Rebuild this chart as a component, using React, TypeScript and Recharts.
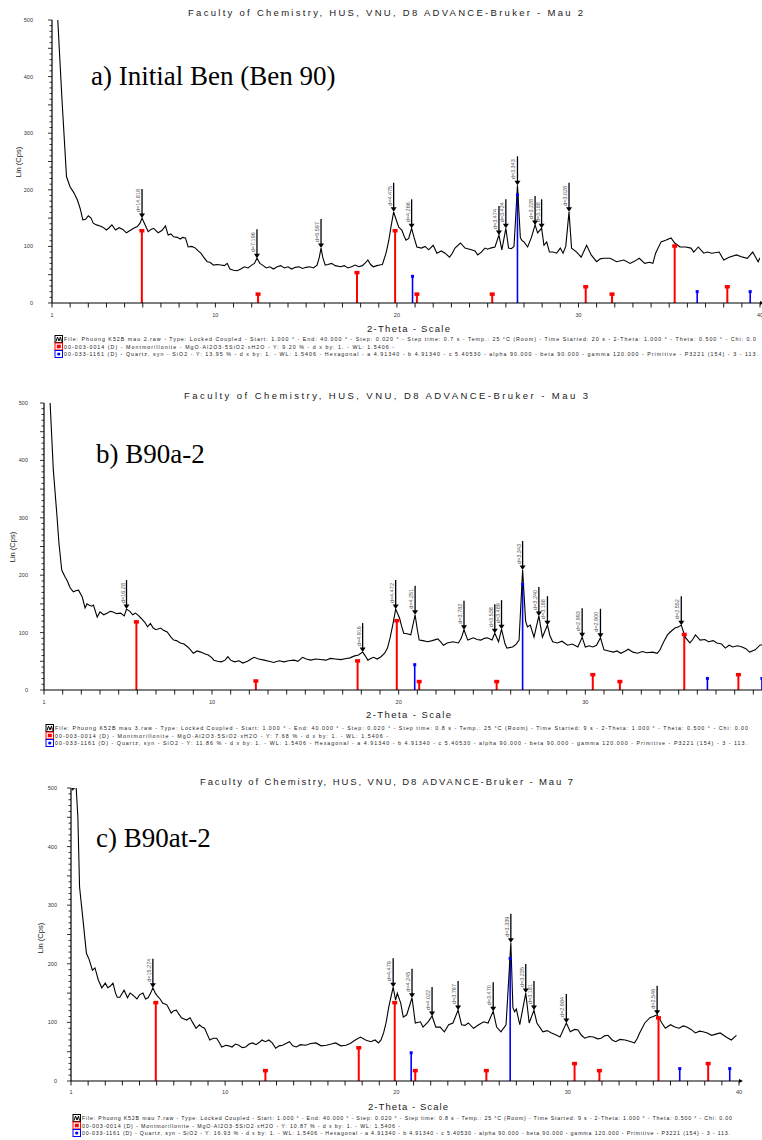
import React from "react";
import { ComposedChart, Line, Scatter, XAxis, YAxis, ReferenceLine } from "recharts";

// reference pattern positions (2-theta, degrees)
const montTheta = [5.95, 12.35, 17.8, 19.9, 21.1, 25.25, 30.4, 31.85, 35.3, 38.2];
const quartzTheta = [20.86, 26.64, 36.54, 39.46];

// stick heights per sample (Cps)
const montCpsA = [129, 17, 55, 129, 17, 17, 30, 17, 102, 30];
const quartzCpsA = [48, 192, 21, 21];
const montCpsB = [120, 17, 52, 122, 16, 16, 28, 16, 98, 28];
const quartzCpsB = [45, 185, 21, 21];
const montCpsC = [135, 19, 58, 135, 19, 19, 31, 19, 109, 31];
const quartzCpsC = [49, 210, 22, 22];

// measured scans: [2-theta, Cps]
const scanA: [number, number][] = [
  [1.0, 720], [1.15, 600], [1.31, 505], [1.55, 359], [1.8, 223], [2.0, 205], [2.2, 195], [2.4, 182],
  [2.55, 167], [2.7, 147], [2.85, 148], [3.0, 154], [3.15, 150], [3.27, 141], [3.45, 138], [3.65, 136],
  [3.8, 134], [4.0, 129], [4.15, 133], [4.3, 138], [4.5, 129], [4.7, 133], [4.9, 130], [5.1, 124],
  [5.3, 128], [5.5, 132], [5.7, 135], [5.85, 141], [5.96, 150], [6.1, 140], [6.3, 126], [6.45, 130],
  [6.6, 132], [6.85, 124], [7.05, 128], [7.25, 136], [7.4, 120], [7.55, 122], [7.7, 117], [7.9, 116],
  [8.07, 113], [8.2, 116], [8.35, 115], [8.5, 99], [8.7, 100], [8.9, 97], [9.05, 92], [9.2, 88],
  [9.35, 81], [9.55, 73], [9.7, 72], [9.9, 67], [10.1, 68], [10.3, 67], [10.5, 66], [10.65, 70],
  [10.8, 60], [11.0, 58], [11.2, 57], [11.4, 60], [11.6, 64], [11.8, 62], [12.0, 67], [12.15, 70],
  [12.29, 79], [12.45, 70], [12.6, 67], [12.8, 62], [13.0, 64], [13.2, 60], [13.4, 64], [13.6, 66],
  [13.8, 62], [14.0, 64], [14.2, 60], [14.4, 63], [14.6, 64], [14.8, 61], [15.0, 63], [15.2, 64],
  [15.4, 62], [15.6, 67], [15.72, 80], [15.82, 97], [15.92, 80], [16.05, 67], [16.2, 68], [16.4, 70],
  [16.6, 66], [16.9, 64], [17.1, 66], [17.3, 62], [17.5, 64], [17.7, 67], [17.9, 64], [18.1, 66],
  [18.3, 72], [18.4, 76], [18.55, 68], [18.7, 64], [18.9, 66], [19.05, 67], [19.2, 68], [19.4, 88],
  [19.55, 110], [19.67, 134], [19.82, 161], [19.95, 148], [20.1, 134], [20.27, 129], [20.4, 118],
  [20.5, 111], [20.65, 114], [20.81, 132], [20.95, 115], [21.1, 99], [21.35, 97], [21.55, 100],
  [21.75, 94], [22.0, 102], [22.2, 88], [22.45, 92], [22.65, 88], [22.9, 81], [23.05, 88], [23.2, 97],
  [23.5, 106], [23.75, 97], [24.1, 94], [24.3, 92], [24.45, 85], [24.65, 90], [24.85, 97], [25.0, 95],
  [25.15, 97], [25.4, 99], [25.62, 120], [25.78, 94], [26.0, 132], [26.15, 97], [26.3, 96], [26.45, 100],
  [26.64, 208], [26.8, 115], [26.9, 110], [27.0, 108], [27.2, 99], [27.4, 115], [27.61, 138], [27.75, 124],
  [27.97, 132], [28.1, 102], [28.25, 108], [28.4, 90], [28.6, 90], [28.8, 88], [29.0, 97], [29.15, 88],
  [29.3, 100], [29.48, 161], [29.62, 97], [29.9, 90], [30.15, 81], [30.45, 102], [30.7, 85], [31.0, 73],
  [31.2, 78], [31.4, 79], [31.75, 79], [32.1, 73], [32.5, 76], [32.85, 70], [33.1, 74], [33.35, 79],
  [33.65, 70], [33.9, 72], [34.1, 70], [34.25, 88], [34.55, 108], [34.8, 111], [35.1, 115], [35.3, 106],
  [35.6, 99], [35.9, 99], [36.2, 97], [36.35, 90], [36.6, 99], [36.9, 88], [37.1, 90], [37.35, 88],
  [37.75, 90], [38.0, 76], [38.3, 81], [38.7, 85], [39.05, 81], [39.3, 79], [39.6, 90], [39.9, 73], [40.0, 80],
];

const scanB: [number, number][] = [
  [1.0, 650], [1.15, 560], [1.32, 505], [1.5, 383], [1.7, 301], [1.8, 256], [1.95, 209], [2.13, 197],
  [2.25, 190], [2.4, 178], [2.57, 171], [2.7, 173], [2.85, 174], [3.05, 162], [3.2, 143], [3.3, 150],
  [3.4, 148], [3.55, 146], [3.65, 148], [3.85, 127], [4.0, 136], [4.2, 131], [4.4, 134], [4.55, 137],
  [4.7, 136], [4.9, 133], [5.1, 134], [5.3, 129], [5.42, 141], [5.6, 137], [5.75, 131], [5.9, 134],
  [6.05, 130], [6.2, 125], [6.4, 118], [6.55, 110], [6.7, 116], [6.85, 108], [7.0, 105], [7.25, 108],
  [7.4, 104], [7.6, 101], [7.8, 92], [7.95, 87], [8.1, 86], [8.3, 82], [8.5, 80], [8.7, 75], [8.85, 70],
  [9.0, 64], [9.2, 68], [9.4, 66], [9.6, 63], [9.8, 61], [10.0, 56], [10.1, 52], [10.3, 50], [10.5, 49],
  [10.7, 52], [10.85, 58], [11.0, 52], [11.2, 49], [11.45, 51], [11.65, 47], [11.9, 50], [12.1, 54],
  [12.25, 57], [12.5, 54], [12.8, 52], [13.05, 50], [13.3, 48], [13.6, 51], [13.85, 49], [14.1, 51],
  [14.4, 52], [14.6, 50], [14.85, 57], [15.05, 54], [15.3, 52], [15.55, 54], [15.8, 53], [16.1, 52],
  [16.35, 55], [16.6, 54], [16.9, 53], [17.2, 55], [17.4, 56], [17.6, 59], [17.85, 61], [18.07, 66],
  [18.2, 60], [18.35, 52], [18.5, 55], [18.65, 57], [18.85, 54], [19.05, 58], [19.25, 64], [19.4, 73],
  [19.55, 92], [19.7, 116], [19.84, 141], [20.05, 125], [20.15, 112], [20.27, 99], [20.45, 98],
  [20.65, 96], [20.88, 131], [21.0, 105], [21.1, 87], [21.3, 86], [21.55, 84], [21.8, 86], [22.1, 89],
  [22.25, 84], [22.4, 78], [22.6, 82], [22.9, 84], [23.2, 82], [23.35, 90], [23.5, 105], [23.7, 87],
  [24.0, 91], [24.2, 88], [24.4, 87], [24.6, 90], [24.75, 91], [25.0, 87], [25.15, 99], [25.35, 84],
  [25.51, 106], [25.7, 80], [25.8, 73], [26.1, 75], [26.3, 80], [26.45, 87], [26.64, 209], [26.8, 120],
  [26.9, 110], [27.05, 113], [27.25, 92], [27.51, 129], [27.7, 92], [27.97, 113], [28.1, 95], [28.25, 84],
  [28.5, 82], [28.75, 85], [29.05, 78], [29.3, 80], [29.6, 75], [29.83, 92], [30.0, 75], [30.2, 77],
  [30.4, 75], [30.6, 78], [30.81, 91], [31.0, 70], [31.25, 68], [31.5, 66], [31.7, 68], [31.9, 64],
  [32.1, 67], [32.3, 71], [32.55, 66], [32.8, 64], [33.05, 67], [33.3, 65], [33.6, 66], [33.85, 64],
  [34.0, 70], [34.2, 84], [34.4, 96], [34.55, 101], [34.8, 108], [35.0, 110], [35.14, 113], [35.35, 92],
  [35.6, 82], [35.75, 88], [35.9, 96], [36.15, 87], [36.4, 88], [36.6, 84], [36.85, 86], [37.05, 82],
  [37.3, 80], [37.5, 73], [37.7, 78], [37.9, 75], [38.15, 77], [38.4, 75], [38.6, 72], [38.8, 66],
  [39.1, 70], [39.35, 78], [39.6, 80], [40.0, 82],
];

const scanC: [number, number][] = [
  [1.0, 505], [1.1, 497], [1.2, 500], [1.3, 502], [1.4, 451], [1.5, 331], [1.7, 275], [1.9, 218],
  [2.05, 208], [2.25, 189], [2.4, 193], [2.6, 172], [2.8, 159], [3.0, 167], [3.15, 159], [3.3, 162],
  [3.45, 167], [3.6, 150], [3.7, 143], [3.85, 143], [4.1, 155], [4.3, 142], [4.45, 150], [4.6, 147],
  [4.85, 140], [5.0, 147], [5.2, 150], [5.35, 140], [5.5, 142], [5.65, 150], [5.78, 159], [5.92, 150],
  [6.05, 145], [6.2, 140], [6.35, 133], [6.6, 130], [6.85, 116], [7.0, 120], [7.15, 121], [7.3, 114],
  [7.45, 108], [7.6, 106], [7.75, 104], [7.95, 108], [8.1, 100], [8.3, 90], [8.5, 96], [8.65, 92],
  [8.8, 90], [8.95, 80], [9.1, 70], [9.3, 73], [9.5, 73], [9.65, 66], [9.8, 58], [10.05, 61], [10.2, 60],
  [10.4, 58], [10.6, 63], [10.8, 61], [11.0, 57], [11.2, 58], [11.4, 63], [11.6, 65], [11.8, 62],
  [12.0, 66], [12.15, 70], [12.35, 67], [12.55, 70], [12.75, 65], [12.95, 56], [13.15, 60], [13.35, 61],
  [13.55, 64], [13.75, 67], [13.95, 60], [14.15, 58], [14.4, 62], [14.7, 61], [15.0, 64], [15.3, 65],
  [15.6, 60], [15.9, 61], [16.2, 63], [16.45, 65], [16.75, 60], [17.05, 61], [17.3, 64], [17.6, 70],
  [17.9, 75], [18.2, 70], [18.5, 67], [18.75, 70], [18.95, 65], [19.1, 70], [19.25, 82], [19.4, 100],
  [19.55, 126], [19.81, 160], [19.95, 138], [20.05, 150], [20.25, 133], [20.4, 109], [20.6, 113],
  [20.91, 142], [21.1, 99], [21.4, 101], [21.55, 92], [21.85, 101], [22.08, 111], [22.3, 92], [22.55, 92],
  [22.8, 84], [23.05, 96], [23.3, 99], [23.6, 121], [23.8, 96], [24.0, 95], [24.2, 99], [24.5, 90],
  [24.8, 96], [25.1, 101], [25.35, 99], [25.65, 119], [25.85, 92], [26.1, 84], [26.4, 96], [26.68, 236],
  [26.8, 125], [26.9, 118], [27.0, 123], [27.2, 96], [27.55, 150], [27.75, 99], [28.03, 121], [28.2, 99],
  [28.55, 84], [28.8, 86], [29.05, 82], [29.3, 79], [29.55, 75], [29.92, 99], [30.15, 84], [30.4, 88],
  [30.6, 87], [30.8, 78], [31.0, 73], [31.25, 76], [31.5, 75], [31.75, 72], [31.95, 73], [32.15, 77],
  [32.35, 78], [32.6, 70], [32.8, 67], [33.05, 71], [33.35, 70], [33.6, 68], [33.9, 65], [34.05, 72],
  [34.2, 82], [34.5, 99], [34.8, 108], [35.0, 110], [35.22, 113], [35.5, 99], [35.7, 90], [36.0, 96],
  [36.25, 92], [36.5, 90], [36.75, 94], [36.95, 92], [37.2, 88], [37.45, 82], [37.7, 85], [37.9, 84],
  [38.15, 82], [38.4, 78], [38.65, 80], [38.9, 82], [39.1, 78], [39.25, 75], [39.55, 70], [39.85, 78],
];

// picked peaks
const peakThetaA = [5.96, 12.29, 15.82, 19.82, 20.81, 25.62, 26.0, 26.64, 27.61, 27.97, 29.48];
const peakCpsA = [150, 79, 97, 161, 132, 120, 132, 208, 138, 132, 161];
const peakLabelA = ["d=14.818", "d=7.196", "d=5.597", "d=4.475", "d=4.266", "d=3.474", "d=3.424", "d=3.343", "d=3.228", "d=3.188", "d=3.028"];

const peakThetaB = [5.42, 18.07, 19.84, 20.88, 23.5, 25.15, 25.51, 26.64, 27.51, 27.97, 29.83, 30.81, 35.14];
const peakCpsB = [141, 66, 141, 131, 105, 99, 106, 209, 129, 113, 92, 91, 113];
const peakLabelB = ["d=16.28", "d=4.916", "d=4.472", "d=4.251", "d=3.782", "d=3.538", "d=3.489", "d=3.343", "d=3.240", "d=3.188", "d=2.993", "d=2.900", "d=2.552"];

const peakThetaC = [5.78, 19.81, 20.91, 22.08, 23.6, 25.65, 26.68, 27.55, 28.03, 29.92, 35.22];
const peakCpsC = [159, 160, 142, 111, 121, 119, 236, 150, 121, 99, 113];
const peakLabelC = ["d=15.274", "d=4.479", "d=4.245", "d=4.022", "d=3.767", "d=3.470", "d=3.339", "d=3.235", "d=3.181", "d=2.984", "d=2.546"];

const xTicks = Array.from({ length: 40 }, (_, i) => i + 1);
const xLabels = [1, 10, 20, 30, 40];
const yTicks = Array.from({ length: 51 }, (_, i) => i * 10);
const yLabels = [0, 100, 200, 300, 400, 500];

const sans = "'Liberation Sans', Arial, sans-serif";
const serif = "'Liberation Serif', 'Times New Roman', serif";

const montRow = (y: string) =>
  `00-003-0014 (D) - Montmorillonite - MgO·Al2O3·5SiO2·xH2O - Y: ${y} % - d x by: 1. - WL: 1.5406 -`;
const quartzRow = (y: string) =>
  `00-033-1161 (D) - Quartz, syn - SiO2 - Y: ${y} % - d x by: 1. - WL: 1.5406 - Hexagonal - a 4.91340 - b 4.91340 - c 5.40530 - alpha 90.000 - beta 90.000 - gamma 120.000 - Primitive - P3221 (154) - 3 - 113.`;

type Panel = {
  top: number; height: number; clipW: number;
  axisX: number; plotTop: number; plotH: number; plotW: number;
  scan: [number, number][]; montCps: number[]; quartzCps: number[];
  peakTheta: number[]; peakCps: number[]; peakLabel: string[];
  title: string; titleX: [number, number]; titleY: number;
  sample: string; sampleX: number; sampleY: number;
  yLabelX: number; yLabelY: number; yTickOff: number; xTickOff: number; lastLabel: boolean;
  xLabel: [number, number, number];
  legendX: number; legendY: number[]; legendEnd: number[]; rows: string[];
};

const panels: Panel[] = [
  {
    top: 0, height: 362, clipW: 762, axisX: 52, plotTop: 20, plotH: 283, plotW: 708,
    scan: scanA, montCps: montCpsA, quartzCps: quartzCpsA,
    peakTheta: peakThetaA, peakCps: peakCpsA, peakLabel: peakLabelA,
    title: "Faculty of Chemistry, HUS, VNU, D8 ADVANCE-Bruker - Mau 2", titleX: [188, 583], titleY: 15.5,
    sample: "a) Initial Ben (Ben 90)", sampleX: 91, sampleY: 85,
    yLabelX: 21, yLabelY: 162, yTickOff: 19, xTickOff: 14, lastLabel: true,
    xLabel: [367, 450, 332],
    legendX: 55, legendY: [341, 348.5, 356], legendEnd: [756, 394, 758],
    rows: [
      "File: Phuong K52B mau 2.raw - Type: Locked Coupled - Start: 1.000 ° - End: 40.000 ° - Step: 0.020 ° - Step time: 0.7 s - Temp.: 25 °C (Room) - Time Started: 20 s - 2-Theta: 1.000 ° - Theta: 0.500 ° - Chi: 0.0",
      montRow("9.20"), quartzRow("13.95"),
    ],
  },
  {
    top: 380, height: 370, clipW: 762, axisX: 44, plotTop: 23, plotH: 287, plotW: 728,
    scan: scanB, montCps: montCpsB, quartzCps: quartzCpsB,
    peakTheta: peakThetaB, peakCps: peakCpsB, peakLabel: peakLabelB,
    title: "Faculty of Chemistry, HUS, VNU, D8 ADVANCE-Bruker - Mau 3", titleX: [184, 588], titleY: 399,
    sample: "b) B90a-2", sampleX: 96, sampleY: 463,
    yLabelX: 15, yLabelY: 547, yTickOff: 16, xTickOff: 14, lastLabel: false,
    xLabel: [366, 451, 718],
    legendX: 46, legendY: [730, 737.5, 745], legendEnd: [748, 388, 747],
    rows: [
      "File: Phuong K52B mau 3.raw - Type: Locked Coupled - Start: 1.000 ° - End: 40.000 ° - Step: 0.020 ° - Step time: 0.8 s - Temp.: 25 °C (Room) - Time Started: 9 s - 2-Theta: 1.000 ° - Theta: 0.500 ° - Chi: 0.00",
      montRow("7.68"), quartzRow("11.86"),
    ],
  },
  {
    top: 765, height: 375, clipW: 743, axisX: 71, plotTop: 23, plotH: 293, plotW: 668,
    scan: scanC, montCps: montCpsC, quartzCps: quartzCpsC,
    peakTheta: peakThetaC, peakCps: peakCpsC, peakLabel: peakLabelC,
    title: "Faculty of Chemistry, HUS, VNU, D8 ADVANCE-Bruker - Mau 7", titleX: [200, 573], titleY: 785,
    sample: "c) B90at-2", sampleX: 96, sampleY: 847,
    yLabelX: 43, yLabelY: 938, yTickOff: 14, xTickOff: 13, lastLabel: true,
    xLabel: [368, 448, 1110],
    legendX: 73, legendY: [1120, 1127.5, 1135], legendEnd: [732, 400, 730],
    rows: [
      "File: Phuong K52B mau 7.raw - Type: Locked Coupled - Start: 1.000 ° - End: 40.000 ° - Step: 0.020 ° - Step time: 0.8 s - Temp.: 25 °C (Room) - Time Started: 9 s - 2-Theta: 1.000 ° - Theta: 0.500 ° - Chi: 0.00",
      montRow("10.87"), quartzRow("16.93"),
    ],
  },
];

function XTick(props: any) {
  const { x, y, payload, off, last } = props;
  const v = payload.value;
  const showLabel = xLabels.includes(v) && (v !== 40 || last);
  return (
    <g>
      <line x1={x} x2={x} y1={y} y2={y + 4.5} stroke="#000" strokeWidth={0.9} />
      {showLabel && (
        <text x={x} y={y + off} textAnchor="middle" fontSize={5.5} fontFamily={sans} fill="#333">{v}</text>
      )}
      {v === 40 && <path d={`M${x},${y - 2} L${x + 4},${y} L${x},${y + 2} Z`} fill="#000" />}
    </g>
  );
}

function YTick(props: any) {
  const { x, y, payload, off } = props;
  const v = payload.value;
  const len = v % 50 === 0 ? 4 : 2.5;
  return (
    <g>
      <line x1={x - len} x2={x} y1={y} y2={y} stroke="#000" strokeWidth={0.8} />
      {yLabels.includes(v) && (
        <text x={x - off} y={y + 2} textAnchor="end" fontSize={5.5} fontFamily={sans} fill="#333">{v}</text>
      )}
    </g>
  );
}

const RedTop = (p: any) => <rect x={p.cx - 2.5} y={p.cy - 1} width={5} height={3.5} fill="#ff0000" />;
const BlueTop = (p: any) => <rect x={p.cx - 1.5} y={p.cy - 1} width={3} height={3} fill="#0000ff" />;

const PeakMark = (p: any) => {
  const { cx, cy, payload } = p;
  return (
    <g>
      <line x1={cx} x2={cx} y1={cy - 29} y2={cy - 3} stroke="#000" strokeWidth={1.3} />
      <path d={`M${cx - 3},${cy - 4.5} L${cx + 3},${cy - 4.5} L${cx},${cy} Z`} fill="#000" />
      <text transform={`translate(${cx - 2},${cy - 6}) rotate(-90)`} fontSize={5.5} fontFamily={sans} fill="#555">
        {payload.label}
      </text>
    </g>
  );
};

function LegendIcon({ x, y, kind }: { x: number; y: number; kind: number }) {
  const color = kind === 0 ? "#000" : kind === 1 ? "#ff0000" : "#0000ff";
  return (
    <g>
      <rect x={x} y={y - 5.5} width={7.5} height={7} fill="#fff" stroke={color} strokeWidth={1} />
      {kind === 0 && <path d={`M${x + 1},${y + 0.5} L${x + 2.5},${y - 4} L${x + 4},${y} L${x + 5.5},${y - 4} L${x + 6.5},${y + 0.5}`} stroke="#000" strokeWidth={1} fill="none" />}
      {kind === 1 && <rect x={x + 1.8} y={y - 3.8} width={4} height={3.6} fill="#ff0000" />}
      {kind === 2 && <circle cx={x + 3.75} cy={y - 2} r={1.6} fill="#0000ff" />}
    </g>
  );
}

function XrdPanel({ c }: { c: Panel }) {
  const scanData = c.scan.map(([t, v]) => ({ t, v }));
  const peaks = c.peakTheta.map((t, i) => ({ t, v: c.peakCps[i], label: c.peakLabel[i] }));
  const montTops = montTheta.map((t, i) => ({ t, h: c.montCps[i] }));
  const quartzTops = quartzTheta.map((t, i) => ({ t, h: c.quartzCps[i] }));
  const width = c.axisX + c.plotW + 12;
  const height = c.plotTop + c.plotH + 22;
  return (
    <div style={{ position: "absolute", left: 0, top: c.top, width: c.clipW, height: c.height, overflow: "hidden" }}>
      <ComposedChart width={width} height={height} margin={{ top: c.plotTop, right: 12, bottom: 2, left: 0 }}>
        <XAxis
          type="number" dataKey="t" domain={[1, 40]} allowDataOverflow ticks={xTicks} interval={0}
          height={20} tickSize={0} tickMargin={0} tickLine={false}
          axisLine={{ stroke: "#000", strokeWidth: 1.2 }}
          tick={(p: any) => <XTick {...p} off={c.xTickOff} last={c.lastLabel} />}
        />
        <YAxis
          type="number" domain={[0, 500]} allowDataOverflow ticks={yTicks} interval={0}
          width={c.axisX} tickSize={0} tickMargin={0} tickLine={false}
          axisLine={{ stroke: "#000", strokeWidth: 1.2 }}
          tick={(p: any) => <YTick {...p} off={c.yTickOff} />}
        />
        {montTheta.map((t, i) => (
          <ReferenceLine key={"m" + i} segment={[{ x: t, y: 0 }, { x: t, y: c.montCps[i] }]} stroke="#ff0000" strokeWidth={2} />
        ))}
        {quartzTheta.map((t, i) => (
          <ReferenceLine key={"q" + i} segment={[{ x: t, y: 0 }, { x: t, y: c.quartzCps[i] }]} stroke="#0000ff" strokeWidth={1.6} />
        ))}
        <Line data={scanData} dataKey="v" type="linear" stroke="#000" strokeWidth={1.1} dot={false} isAnimationActive={false} />
        <Scatter data={montTops} dataKey="h" shape={RedTop} isAnimationActive={false} />
        <Scatter data={quartzTops} dataKey="h" shape={BlueTop} isAnimationActive={false} />
        <Scatter data={peaks} dataKey="v" shape={PeakMark} isAnimationActive={false} />
      </ComposedChart>
      <svg width={c.clipW} height={c.height} style={{ position: "absolute", left: 0, top: 0, pointerEvents: "none" }}>
        <g transform={`translate(0, ${-c.top})`}>
          <text x={c.titleX[0]} y={c.titleY} textLength={c.titleX[1] - c.titleX[0]} lengthAdjust="spacing"
            fontSize={9.5} fontFamily={sans} fill="#222">{c.title}</text>
          <text x={c.sampleX} y={c.sampleY} fontSize={27} fontFamily={serif} fill="#000">{c.sample}</text>
          <text transform={`translate(${c.yLabelX},${c.yLabelY}) rotate(-90)`} textAnchor="middle"
            fontSize={7.5} fontFamily={sans} fill="#222">Lin (Cps)</text>
          <text x={c.xLabel[0]} y={c.xLabel[2]} textLength={c.xLabel[1] - c.xLabel[0]} lengthAdjust="spacing"
            fontSize={9.5} fontFamily={sans} fill="#222">2-Theta - Scale</text>
          {c.rows.map((r, i) => (
            <g key={i}>
              <LegendIcon x={c.legendX} y={c.legendY[i]} kind={i} />
              <text x={c.legendX + 9} y={c.legendY[i]} textLength={c.legendEnd[i] - c.legendX - 9} lengthAdjust="spacing"
                fontSize={5.3} fontFamily={sans} fill="#222">{r}</text>
            </g>
          ))}
        </g>
      </svg>
    </div>
  );
}

export default function App() {
  return (
    <div style={{ position: "absolute", left: 0, top: 0, width: 762, height: 1140, background: "#fff", overflow: "hidden" }}>
      {panels.map((c, i) => (
        <XrdPanel key={i} c={c} />
      ))}
    </div>
  );
}
